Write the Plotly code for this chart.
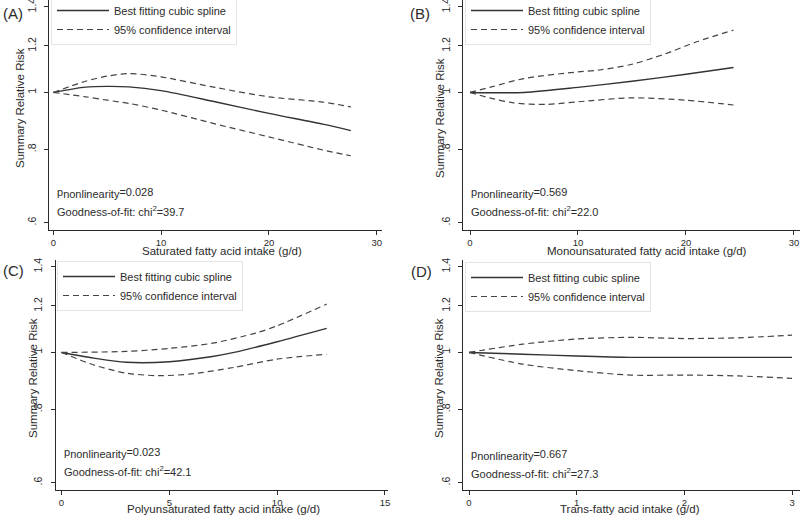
import math
import plotly.graph_objects as go

# ---------------- data ----------------
a_x = [0, 3, 5, 7, 10, 15, 20, 25, 27.6]
a_fit = [1.0, 1.021, 1.024, 1.022, 1.007, 0.964, 0.921, 0.883, 0.861]
a_up = [1.0, 1.045, 1.066, 1.077, 1.063, 1.020, 0.983, 0.963, 0.945]
a_lo = [1.0, 0.983, 0.970, 0.958, 0.933, 0.884, 0.840, 0.798, 0.780]

b_x_fit = [0, 5, 10, 15, 20, 24.4]
b_fit = [1.0, 1.0, 1.020, 1.045, 1.074, 1.103]
b_x_up = [0, 2, 5, 10, 12, 15, 18, 21, 24.4]
b_up = [1.0, 1.022, 1.056, 1.084, 1.092, 1.117, 1.162, 1.220, 1.277]
b_x_lo = [0, 2, 4, 7, 10, 15, 20, 24.4]
b_lo = [1.0, 0.977, 0.960, 0.954, 0.964, 0.979, 0.970, 0.952]

c_x_fit = [0, 1.5, 3, 5, 7, 8, 10, 12.3]
c_fit = [1.0, 0.978, 0.962, 0.964, 0.984, 1.0, 1.043, 1.099]
c_x_up = [0, 3, 5, 7, 9, 10, 12.3]
c_up = [1.0, 1.004, 1.016, 1.037, 1.079, 1.110, 1.209]
c_x_lo = [0, 1.5, 3, 4.5, 6, 8, 10, 12.3]
c_lo = [1.0, 0.952, 0.922, 0.913, 0.919, 0.943, 0.974, 0.993]

d_x = [0, 0.5, 1, 1.5, 2, 2.5, 3]
d_fit = [1.0, 0.993, 0.986, 0.981, 0.981, 0.981, 0.981]
d_up = [1.0, 1.033, 1.054, 1.061, 1.056, 1.059, 1.070]
d_lo = [1.0, 0.955, 0.931, 0.915, 0.915, 0.912, 0.903]

y_ticks = [0.6, 0.8, 1.0, 1.2, 1.4]
y_ticklabels = [".6", ".8", "1", "1.2", "1.4"]

panels = [
    dict(tag="(A)", xtitle="Saturated fatty acid intake (g/d)", p="0.028", chi="39.7",
         xticks=[0, 10, 20, 30],
         fit=(a_x, a_fit), up=(a_x, a_up), lo=(a_x, a_lo)),
    dict(tag="(B)", xtitle="Monounsaturated fatty acid intake (g/d)", p="0.569", chi="22.0",
         xticks=[0, 10, 20, 30],
         fit=(b_x_fit, b_fit), up=(b_x_up, b_up), lo=(b_x_lo, b_lo)),
    dict(tag="(C)", xtitle="Polyunsaturated fatty acid intake (g/d)", p="0.023", chi="42.1",
         xticks=[0, 5, 10, 15],
         fit=(c_x_fit, c_fit), up=(c_x_up, c_up), lo=(c_x_lo, c_lo)),
    dict(tag="(D)", xtitle="Trans-fatty acid intake (g/d)", p="0.667", chi="27.3",
         xticks=[0, 1, 2, 3],
         fit=(d_x, d_fit), up=(d_x, d_up), lo=(d_x, d_lo)),
]

# ---------------- layout geometry (pixels) ----------------
W, H = 800, 520
FONT = "Arial, Liberation Sans, sans-serif"
INK = "#2b2b2b"

geom = [
    dict(x0=49.3, x1=382, top=0, bot=230, xr=[-0.371, 30.49],
         ytl_x=20, ytl_y=108, xtl_x=222, xtl_y=250.5, tag_x=13, tag_y=13,
         leg_x=51, leg_y=-5, ann_x=55, ann_y=193),
    dict(x0=463, x1=800, top=0, bot=230, xr=[-0.648, 30.56],
         ytl_x=440, ytl_y=118, xtl_x=647, xtl_y=251, tag_x=420, tag_y=13,
         leg_x=465, leg_y=-5, ann_x=469, ann_y=193),
    dict(x0=55.5, x1=388, top=260, bot=490, xr=[-0.278, 15.14],
         ytl_x=33, ytl_y=378, xtl_x=223, xtl_y=509, tag_x=13, tag_y=270,
         leg_x=57, leg_y=261, ann_x=62, ann_y=453),
    dict(x0=463, x1=800, top=260, bot=490, xr=[-0.0557, 3.074],
         ytl_x=439, ytl_y=378, xtl_x=630, xtl_y=509, tag_x=421, tag_y=271,
         leg_x=465, leg_y=262, ann_x=469, ann_y=455),
]

y_range = [math.log10(0.583), math.log10(1.437)]

fig = go.Figure()
layout = dict(
    width=W, height=H, margin=dict(l=0, r=0, t=0, b=0, autoexpand=False),
    paper_bgcolor="white", plot_bgcolor="white",
    font=dict(family=FONT, color=INK),
    annotations=[], shapes=[],
)

DASH = "6px,4px"
for i, (p, g) in enumerate(zip(panels, geom)):
    n = "" if i == 0 else str(i + 1)
    xa, ya = "x" + n, "y" + n
    leg = "legend" + n
    fig.add_trace(go.Scatter(x=p["fit"][0], y=p["fit"][1], xaxis=xa, yaxis=ya,
                             mode="lines", line=dict(color="#333333", width=1.4, shape="spline", smoothing=0.8),
                             name="Best fitting cubic spline", legend=leg, showlegend=True))
    fig.add_trace(go.Scatter(x=p["up"][0], y=p["up"][1], xaxis=xa, yaxis=ya,
                             mode="lines", line=dict(color="#444444", width=1.2, dash=DASH, shape="spline", smoothing=0.8),
                             name="95% confidence interval", legend=leg, showlegend=True))
    fig.add_trace(go.Scatter(x=p["lo"][0], y=p["lo"][1], xaxis=xa, yaxis=ya,
                             mode="lines", line=dict(color="#444444", width=1.2, dash=DASH, shape="spline", smoothing=0.8),
                             name="95% confidence interval", legend=leg, showlegend=False))

    layout["xaxis" + n] = dict(
        domain=[g["x0"] / W, g["x1"] / W], anchor=ya, range=g["xr"],
        tickvals=p["xticks"], ticks="outside", ticklen=4, tickcolor=INK,
        showline=True, linecolor=INK, linewidth=1, showgrid=False, zeroline=False,
        tickfont=dict(size=9.5, family=FONT, color=INK), ticklabelstandoff=0,
        ticklabeloverflow="allow",
    )
    layout["yaxis" + n] = dict(
        domain=[1 - g["bot"] / H, 1 - g["top"] / H], anchor=xa, type="log", range=y_range,
        tickvals=y_ticks, ticktext=y_ticklabels, tickangle=-90,
        ticks="outside", ticklen=4, tickcolor=INK,
        showline=True, linecolor=INK, linewidth=1, showgrid=False, zeroline=False,
        tickfont=dict(size=10.5, family=FONT, color=INK), ticklabelstandoff=4,
        ticklabeloverflow="allow",
    )
    layout[leg] = dict(
        x=g["leg_x"] / W, y=1 - g["leg_y"] / H, xanchor="left", yanchor="top",
        bgcolor="rgba(255,255,255,0)", bordercolor="#e4e4e4", borderwidth=1,
        font=dict(size=11, family=FONT, color=INK),
        itemwidth=52, tracegroupgap=0,
    )
    ann = layout["annotations"]
    common = dict(xref="paper", yref="paper", showarrow=False)
    ann.append(dict(text=p["xtitle"], x=g["xtl_x"] / W, y=1 - g["xtl_y"] / H,
                    xanchor="center", yanchor="middle",
                    font=dict(size=11.5, family=FONT, color=INK), **common))
    ann.append(dict(text="Summary Relative Risk", x=g["ytl_x"] / W, y=1 - g["ytl_y"] / H,
                    xanchor="center", yanchor="middle", textangle=-90,
                    font=dict(size=11.5, family=FONT, color=INK), **common))
    ann.append(dict(text=p["tag"], x=g["tag_x"] / W, y=1 - g["tag_y"] / H,
                    xanchor="center", yanchor="middle",
                    font=dict(size=15, family=FONT, color=INK), **common))
    ann.append(dict(text="p<sub><span style='font-size:11px'>nonlinearity</span></sub>=" + p["p"],
                    x=g["ann_x"] / W, y=1 - g["ann_y"] / H, xanchor="left", yanchor="middle",
                    font=dict(size=11, family=FONT, color=INK), **common))
    ann.append(dict(text="Goodness-of-fit: chi<sup>2</sup>=" + p["chi"],
                    x=g["ann_x"] / W, y=1 - (g["ann_y"] + 18) / H, xanchor="left", yanchor="middle",
                    font=dict(size=11, family=FONT, color=INK), **common))

fig.update_layout(**layout)
fig.write_html("out.html", config={"displayModeBar": False},
               post_script="document.body.style.margin='0';document.body.style.padding='0';")
